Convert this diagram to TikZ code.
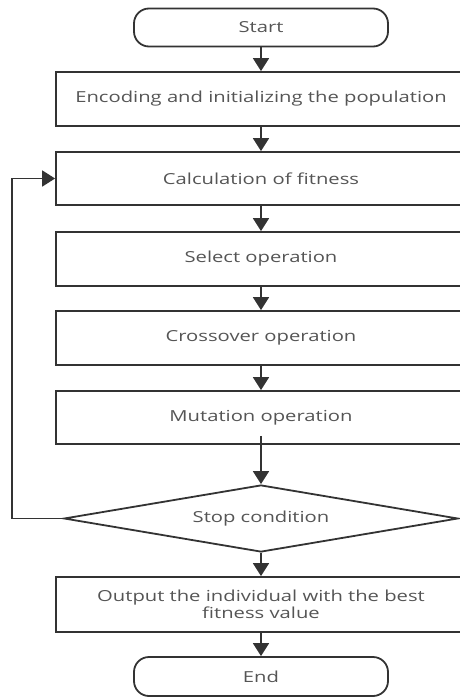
\documentclass[tikz,border=0pt]{standalone}
\usepackage{fontspec}
\setmainfont{Open Sans}[FakeStretch=1.33]
\usetikzlibrary{shapes.geometric,arrows.meta}
\definecolor{linec}{HTML}{333333}
\definecolor{textc}{HTML}{555555}
\tikzset{
  base/.style={draw=linec, line width=1.8pt, text=textc, inner sep=0pt,
    font=\fontsize{15.2}{17}\selectfont, align=center},
  procbox/.style={base, rectangle, minimum width=410pt, minimum height=54pt},
  termbox/.style={base, rectangle, rounded corners=15pt, minimum width=254pt, minimum height=38pt},
  decbox/.style={base, diamond, aspect=5.9, minimum width=394pt, minimum height=67pt},
  arr/.style={draw=linec, line width=1.8pt, -{Triangle[length=13pt,width=16pt]}},
}
\begin{document}
\begin{tikzpicture}[x=1pt,y=-1pt]
\useasboundingbox (0,0) rectangle (460,699);
\clip (0,0) rectangle (460,699);
\node[termbox] (start) at (261,27.5) {Start};
\node[procbox] (b1) at (261,99) {Encoding and initializing the population};
\node[procbox, minimum height=53pt] (b2) at (261,178.5) {Calculation of fitness};
\node[procbox] (b3) at (261,259) {Select operation};
\node[procbox] (b4) at (261,338) {Crossover operation};
\node[procbox, minimum height=53pt] (b5) at (261,417.5) {Mutation operation};
\node[decbox] (dia) at (261,518.5) {Stop condition};
\node[procbox, minimum height=55pt] (out) at (261,604.5) {Output the individual with the best\\fitness value};
\node[termbox, minimum height=39pt] (end) at (261,676.5) {End};
\coordinate (fb) at (12,0);
\coordinate (m5) at ([yshift=9pt]b5.south);
\draw[arr] (start) -- (b1);
\draw[arr] (b1) -- (b2);
\draw[arr] (b2) -- (b3);
\draw[arr] (b3) -- (b4);
\draw[arr] (b4) -- (b5);
\draw[arr] (m5) -- (dia.north);
\draw[arr] (dia) -- (out);
\draw[arr] (out) -- (end);
\draw[arr] (dia.west) -- (dia.west -| fb) |- (b2.west);
\end{tikzpicture}
\end{document}
